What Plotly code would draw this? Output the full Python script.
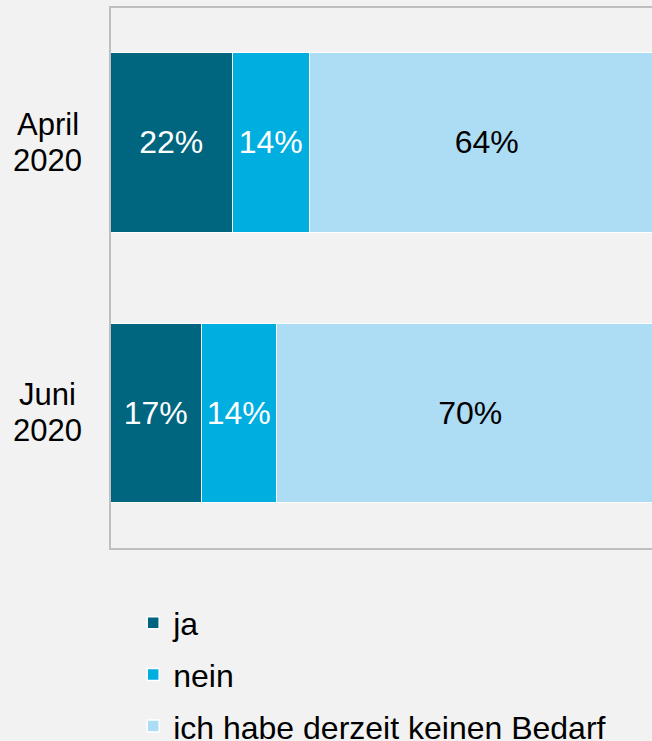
import plotly.graph_objects as go

categories = ["April 2020", "Juni 2020"]
category_lines = [["April", "2020"], ["Juni", "2020"]]
series_names = ["ja", "nein", "ich habe derzeit keinen Bedarf"]
values_ja = [22, 16.5]
values_nein = [14, 13.5]
values_kein = [64, 70]
labels_ja = ["22%", "17%"]
labels_nein = ["14%", "14%"]
labels_kein = ["64%", "70%"]

colors = ["#00667f", "#00aee0", "#addcf5"]
text_colors = ["white", "white", "black"]
FONT = "Liberation Sans, Arial, sans-serif"

fig = go.Figure()
for i, (name, vals, labs) in enumerate(zip(series_names,
                                           [values_ja, values_nein, values_kein],
                                           [labels_ja, labels_nein, labels_kein])):
    fig.add_trace(go.Bar(
        y=categories, x=vals, name=name, orientation="h",
        text=labs, textposition="inside", insidetextanchor="middle",
        textangle=0, constraintext="none",
        insidetextfont=dict(family=FONT, size=32, color=text_colors[i]),
        marker=dict(color=colors[i], line=dict(color="white", width=1.5)),
        width=0.663, legendgroup=name, hoverinfo="skip",
    ))

for cat, lines in zip(categories, category_lines):
    for j, line in enumerate(lines):
        fig.add_annotation(
            x=-0.1165, xref="paper", y=cat, yref="y",
            text=line, showarrow=False, xanchor="center", yanchor="middle",
            yshift=19 if j == 0 else -17,
            font=dict(family=FONT, size=31, color="black"),
        )

fig.update_layout(
    width=652, height=741,
    margin=dict(l=111, r=0, t=8, b=193, autoexpand=False),
    paper_bgcolor="#f2f2f2", plot_bgcolor="#f2f2f2",
    barmode="stack", bargap=0,
    showlegend=True,
    legend=dict(orientation="v", x=0.041, xanchor="left", y=-0.088, yanchor="top",
                font=dict(family=FONT, size=32, color="black"),
                traceorder="grouped", tracegroupgap=7,
                bgcolor="rgba(0,0,0,0)"),
    font=dict(family=FONT, size=30, color="black"),
)
fig.update_xaxes(range=[0, 97.65], showline=True, mirror=True, linecolor="#bfbfbf",
                 linewidth=2, showgrid=False, zeroline=False, showticklabels=False,
                 ticks="", fixedrange=True)
fig.update_yaxes(range=[1.5, -0.5], showline=True, mirror=False, linecolor="#bfbfbf",
                 linewidth=2, showgrid=False, zeroline=False, showticklabels=False,
                 ticks="", fixedrange=True)

fig.write_html(
    "out.html",
    config={"displayModeBar": False},
    post_script="document.body.style.margin='0';document.body.style.background='#f2f2f2';",
)
